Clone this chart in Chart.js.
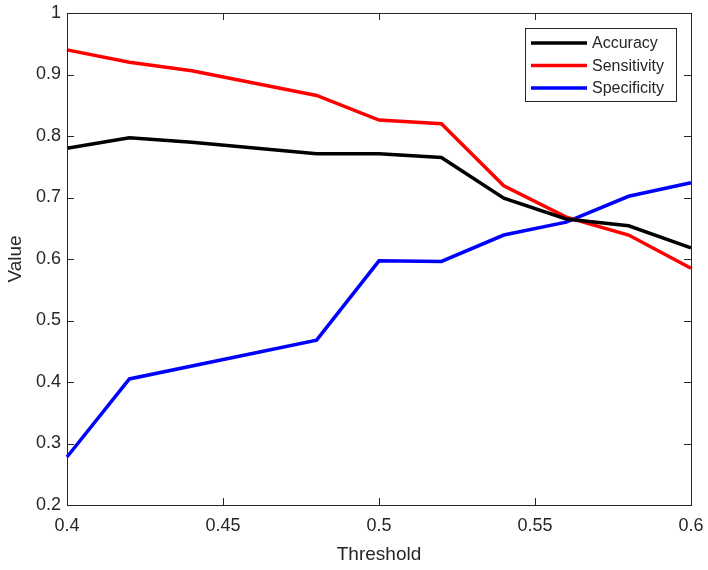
<!DOCTYPE html>
<html>
<head>
<meta charset="utf-8">
<script src="https://cdn.jsdelivr.net/npm/chart.js@4.4.1/dist/chart.umd.min.js"></script>
<style>
  html, body { margin: 0; padding: 0; background: #fff; }
  #wrap { width: 708px; height: 570px; }
</style>
</head>
<body>
<div id="wrap"><canvas id="chart-threshold"></canvas></div>
<script>
// values
const seriesLabels = ['Accuracy', 'Sensitivity', 'Specificity'];
const seriesColors = ['#000000', '#ff0000', '#0000ff'];

const accuracyX = [0.40, 0.42, 0.44, 0.48, 0.50, 0.52, 0.54, 0.56, 0.58, 0.60];
const accuracyY = [0.780, 0.797, 0.790, 0.771, 0.771, 0.765, 0.699, 0.665, 0.654, 0.618];

const sensitivityX = [0.40, 0.42, 0.44, 0.48, 0.50, 0.52, 0.54, 0.56, 0.58, 0.60];
const sensitivityY = [0.940, 0.920, 0.906, 0.866, 0.826, 0.820, 0.719, 0.668, 0.639, 0.585];

const specificityX = [0.40, 0.42, 0.48, 0.50, 0.52, 0.54, 0.56, 0.58, 0.60];
const specificityY = [0.278, 0.405, 0.468, 0.597, 0.596, 0.639, 0.660, 0.702, 0.724];

const xTicks = [0.4, 0.45, 0.5, 0.55, 0.6];
const yTicks = [0.2, 0.3, 0.4, 0.5, 0.6, 0.7, 0.8, 0.9, 1];

const toPoints = (xs, ys) => xs.map((x, i) => ({ x: x, y: ys[i] }));
const fmt = v => String(Number(v.toFixed(2)));

const axisColor = '#262626';

// box round the plot area, with inward ticks on all four sides
const boxPlugin = {
    id: 'matlabBox',
    afterDraw(chart) {
        const { ctx, chartArea: a, scales } = chart;
        ctx.save();
        ctx.strokeStyle = axisColor;
        ctx.lineWidth = 1;
        ctx.beginPath();
        xTicks.forEach(t => {
            const px = Math.round(scales.x.getPixelForValue(t)) + 0.5;
            ctx.moveTo(px, a.bottom); ctx.lineTo(px, a.bottom - 7);
            ctx.moveTo(px, a.top); ctx.lineTo(px, a.top + 7);
        });
        yTicks.forEach(t => {
            const py = Math.round(scales.y.getPixelForValue(t)) + 0.5;
            ctx.moveTo(a.left, py); ctx.lineTo(a.left + 7, py);
            ctx.moveTo(a.right, py); ctx.lineTo(a.right - 7, py);
        });
        ctx.stroke();
        ctx.strokeRect(Math.round(a.left) + 0.5, Math.round(a.top) + 0.5,
            Math.round(a.right - a.left), Math.round(a.bottom - a.top));
        ctx.restore();
    }
};

// legend inside the plot, top right, with a framed box
const legendPlugin = {
    id: 'innerLegend',
    afterDraw(chart) {
        const { ctx } = chart;
        const bx = 525, by = 28, bw = 151, bh = 73;
        ctx.save();
        ctx.fillStyle = '#ffffff';
        ctx.fillRect(bx, by, bw, bh);
        ctx.strokeStyle = axisColor;
        ctx.lineWidth = 1;
        ctx.strokeRect(bx + 0.5, by + 0.5, bw, bh);
        ctx.font = '16px "Liberation Sans", Arial, sans-serif';
        ctx.textBaseline = 'middle';
        chart.data.datasets.forEach((ds, i) => {
            const y = 43 + i * 22.5;
            ctx.strokeStyle = ds.borderColor;
            ctx.lineWidth = 3.5;
            ctx.beginPath();
            ctx.moveTo(531, y); ctx.lineTo(587, y);
            ctx.stroke();
            ctx.fillStyle = axisColor;
            ctx.fillText(ds.label, 592, y + 1);
        });
        ctx.restore();
    }
};

const datasets = [
    toPoints(accuracyX, accuracyY),
    toPoints(sensitivityX, sensitivityY),
    toPoints(specificityX, specificityY)
].map((pts, i) => ({
    label: seriesLabels[i],
    data: pts,
    borderColor: seriesColors[i],
    backgroundColor: seriesColors[i],
    borderWidth: 3.5,
    pointRadius: 0,
    tension: 0,
    clip: false
}));

const tickFont = { family: '"Liberation Sans", Arial, sans-serif', size: 18 };
const titleFont = { family: '"Liberation Sans", Arial, sans-serif', size: 19 };

new Chart(document.getElementById('chart-threshold').getContext('2d'), {
    type: 'line',
    data: { datasets: datasets },
    options: {
        responsive: true,
        maintainAspectRatio: false,
        animation: false,
        layout: { padding: { left: 0, top: 13, right: 17, bottom: 0 } },
        plugins: {
            legend: { display: false },
            tooltip: { enabled: false }
        },
        scales: {
            x: {
                type: 'linear',
                min: 0.4,
                max: 0.6,
                afterBuildTicks: s => { s.ticks = xTicks.map(v => ({ value: v })); },
                afterFit: s => { s.height = 65; s.paddingLeft = 0; s.paddingRight = 0; },
                grid: { display: false, drawTicks: false },
                border: { display: false },
                ticks: { color: axisColor, font: tickFont, padding: 10, maxRotation: 0, callback: v => fmt(v) },
                title: { display: true, text: 'Threshold', color: axisColor, font: titleFont, padding: { top: 0, bottom: 4 } }
            },
            y: {
                type: 'linear',
                min: 0.2,
                max: 1,
                afterBuildTicks: s => { s.ticks = yTicks.map(v => ({ value: v })); },
                afterFit: s => { s.width = 67; s.paddingTop = 0; s.paddingBottom = 0; },
                grid: { display: false, drawTicks: false },
                border: { display: false },
                ticks: { color: axisColor, font: tickFont, padding: 6, callback: v => fmt(v) },
                title: { display: true, text: 'Value', color: axisColor, font: titleFont, padding: { top: 4, bottom: 0 } }
            }
        }
    },
    plugins: [boxPlugin, legendPlugin]
});
</script>
</body>
</html>
